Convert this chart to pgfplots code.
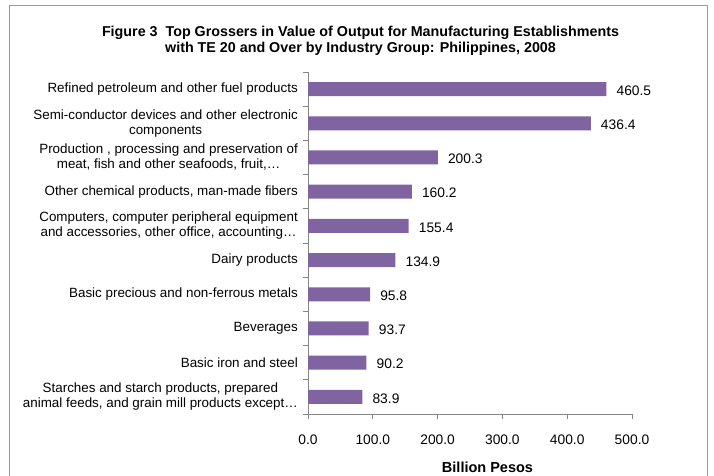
\documentclass[border=0pt]{standalone}
\usepackage{pgfplots}
\pgfplotsset{compat=1.18}
\usepackage{fontspec}
\setmainfont{Liberation Sans}
\definecolor{barpurple}{RGB}{128,100,162}
\definecolor{axisgray}{RGB}{134,134,134}
\definecolor{framegray}{RGB}{155,155,155}
\begin{document}
\begin{tikzpicture}[x=1bp,y=1bp]
\useasboundingbox (0,0) rectangle (714,476);
\draw[framegray,line width=0.8bp] (9,-2) -- (9,471) -- (707,471) -- (707,-2);
\node[font=\bfseries\fontsize{14.3bp}{16bp}\selectfont,align=center] at (360.5,435) {Figure 3\ \ Top Grossers in Value of Output for Manufacturing Establishments\\with TE 20 and Over by Industry Group: Philippines, 2008};
\begin{axis}[
  at={(308bp,62bp)}, anchor=south west,
  scale only axis, width=324bp, height=342bp,
  xmin=0, xmax=500, ymin=-0.5, ymax=9.5,
  xbar, bar width=14bp,
  axis x line*=bottom, axis y line*=left,
  axis line style={axisgray, line width=0.8bp},
  every tick/.style={axisgray, line width=0.8bp},
  tick align=outside,
  xtick={0,100,...,500},
  minor xtick={0,100,...,500},
  major tick length=0bp,
  ytick={0,...,9},
  minor ytick={-0.5,0.5,...,9.5},
  minor tick length=5bp,
  /pgf/number format/assume math mode=true,
  xticklabel={\pgfmathprintnumber[fixed,fixed zerofill,precision=1]{\tick}},
  xticklabel style={font=\fontsize{13.8bp}{15bp}\selectfont, yshift=-17bp},
  yticklabels={{Starches and starch products, prepared\\animal feeds, and grain mill products except…},
    {Basic iron and steel},
    {Beverages},
    {Basic precious and non-ferrous metals},
    {Dairy products},
    {Computers, computer peripheral equipment\\and accessories, other office, accounting…},
    {Other chemical products, man-made fibers},
    {Production , processing and preservation of\\meat, fish and other seafoods, fruit,…},
    {Semi-conductor devices and other electronic\\components},
    {Refined petroleum and other fuel products}},
  yticklabel style={font=\fontsize{13.4bp}{15bp}\selectfont, align=center, inner sep=0pt, xshift=-10bp},
  nodes near coords,
  point meta=x,
  nodes near coords style={font=\fontsize{13.8bp}{15bp}\selectfont, anchor=west, inner sep=0pt, xshift=10bp, yshift=-1.5bp, /pgf/number format/.cd, fixed, fixed zerofill, precision=1, assume math mode=true},
  clip=false,
]
\addplot[draw=none, fill=barpurple] coordinates {
  (83.9,0) (90.2,1) (93.7,2) (95.8,3) (134.9,4) (155.4,5) (160.2,6) (200.3,7) (436.4,8) (460.5,9)
};
\end{axis}
\node[font=\bfseries\fontsize{14.5bp}{16bp}\selectfont] at (487.5,9) {Billion Pesos};
\end{tikzpicture}
\end{document}
